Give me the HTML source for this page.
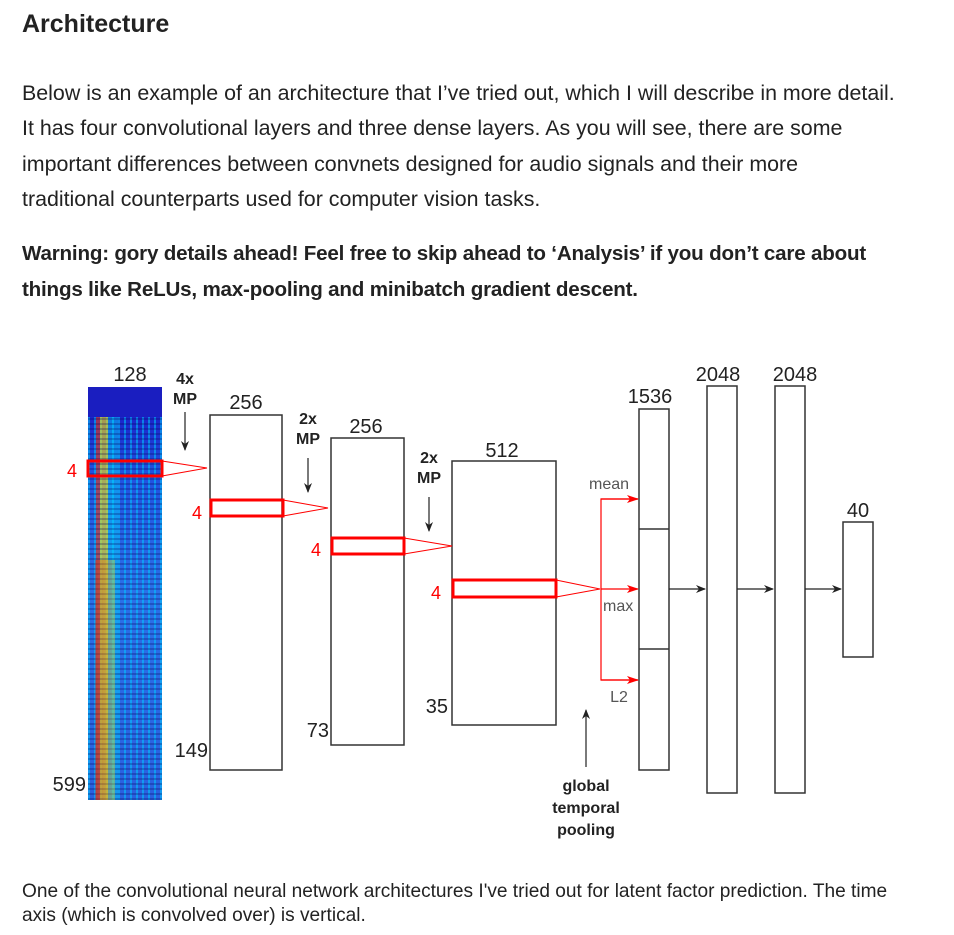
<!DOCTYPE html>
<html><head><meta charset="utf-8"><style>
body{margin:0;background:#fff;width:954px;height:935px;overflow:hidden;font-family:"Liberation Sans",sans-serif;color:#222}
.t{position:absolute;left:22px;white-space:nowrap}
</style></head><body>
<div class="t" style="top:10px;font-size:25px;font-weight:bold">Architecture</div>
<div class="t" style="top:76px;font-size:21.4px;line-height:35.3px">Below is an example of an architecture that I’ve tried out, which I will describe in more detail.<br>It has four convolutional layers and three dense layers. As you will see, there are some<br>important differences between convnets designed for audio signals and their more<br>traditional counterparts used for computer vision tasks.</div>
<div class="t" style="top:236px;font-size:20.6px;line-height:36px;font-weight:bold;letter-spacing:-0.2px">Warning: gory details ahead! Feel free to skip ahead to ‘Analysis’ if you don’t care about<br>things like ReLUs, max-pooling and minibatch gradient descent.</div>
<div class="t" style="top:880px;font-size:19.1px;line-height:24px">One of the convolutional neural network architectures I've tried out for latent factor prediction. The time<br>axis (which is convolved over) is vertical.</div>

<div style="position:absolute;left:88px;top:387px;width:74px;height:413px;background:
repeating-linear-gradient(0deg,rgba(0,0,80,.25) 0 2px,transparent 2px 5px),
linear-gradient(90deg,transparent 0 8px,rgba(255,60,0,.55) 8px 12px,rgba(255,230,0,.6) 12px 20px,rgba(0,220,255,.45) 20px 30px,transparent 30px),
repeating-linear-gradient(90deg,rgba(0,200,255,.55) 0 2px,transparent 2px 6px),
linear-gradient(180deg,#1a20c8 0 6%,#2050e0 20%,#2a70e8 50%,#2a60e0 100%)"></div>
<div style="position:absolute;left:88px;top:387px;width:74px;height:30px;background:#1a1ec0"></div>
<div style="position:absolute;left:95px;top:560px;width:20px;height:240px;background:linear-gradient(90deg,rgba(230,30,0,.35),rgba(255,220,0,.35))"></div>

<svg width="954" height="935" style="position:absolute;left:0;top:0" font-family="Liberation Sans,sans-serif">
<defs>
<marker id="ab" markerWidth="10" markerHeight="8" refX="9" refY="4" orient="auto" markerUnits="userSpaceOnUse"><path d="M0,0 L10,4 L0,8 L3,4z" fill="#222"/></marker>
<marker id="ar" markerWidth="12" markerHeight="8" refX="11" refY="4" orient="auto" markerUnits="userSpaceOnUse"><path d="M0,0 L12,4 L0,8 L3,4z" fill="#f00"/></marker>
</defs>
<g fill="none" stroke="#333" stroke-width="1.5">
<rect x="210" y="415" width="72" height="355"/>
<rect x="331" y="438" width="73" height="307"/>
<rect x="452" y="461" width="104" height="264"/>
<rect x="639" y="409" width="30" height="361"/>
<line x1="639" y1="529" x2="669" y2="529"/><line x1="639" y1="649" x2="669" y2="649"/>
<rect x="707" y="386" width="30" height="407"/>
<rect x="775" y="386" width="30" height="407"/>
<rect x="843" y="522" width="30" height="135"/>
</g>
<g stroke="#222" stroke-width="1.2" marker-end="url(#ab)">
<line x1="185" y1="412" x2="185" y2="450"/>
<line x1="308" y1="458" x2="308" y2="492"/>
<line x1="429" y1="497" x2="429" y2="531"/>
<line x1="669" y1="589" x2="705" y2="589"/>
<line x1="737" y1="589" x2="773" y2="589"/>
<line x1="805" y1="589" x2="841" y2="589"/>
<line x1="586" y1="767" x2="586" y2="710"/>
</g>
<g fill="none" stroke="#f00">
<rect x="88" y="461" width="74" height="15" stroke-width="3"/>
<rect x="211" y="500" width="72" height="16" stroke-width="3"/>
<rect x="332" y="538" width="72" height="16" stroke-width="3"/>
<rect x="453" y="580" width="103" height="17" stroke-width="3"/>
<polyline points="162,461 207,468 162,476" stroke-width="1"/>
<polyline points="283,500 328,508 283,516" stroke-width="1"/>
<polyline points="404,538 452,546 404,554" stroke-width="1"/>
<polyline points="556,580 600,589 556,597" stroke-width="1"/>
<polyline points="638,499 601,499 601,680 638,680" stroke-width="1.2"/>
<line x1="601" y1="499" x2="638" y2="499" stroke-width="1.2" marker-end="url(#ar)"/>
<line x1="601" y1="589" x2="638" y2="589" stroke-width="1.2" marker-end="url(#ar)"/>
<line x1="601" y1="680" x2="638" y2="680" stroke-width="1.2" marker-end="url(#ar)"/>
</g>
<g fill="#222" font-size="20">
<text x="130" y="381" text-anchor="middle">128</text>
<text x="246" y="409" text-anchor="middle">256</text>
<text x="366" y="433" text-anchor="middle">256</text>
<text x="502" y="457" text-anchor="middle">512</text>
<text x="650" y="403" text-anchor="middle">1536</text>
<text x="718" y="381" text-anchor="middle">2048</text>
<text x="795" y="381" text-anchor="middle">2048</text>
<text x="858" y="517" text-anchor="middle">40</text>
<text x="86" y="791" text-anchor="end">599</text>
<text x="208" y="757" text-anchor="end">149</text>
<text x="329" y="737" text-anchor="end">73</text>
<text x="448" y="713" text-anchor="end">35</text>
</g>
<g fill="#555" font-size="16">
<text x="609" y="489" text-anchor="middle">mean</text>
<text x="603" y="611">max</text>
<text x="619" y="702" text-anchor="middle">L2</text>
</g>
<g fill="#f00" font-size="18">
<text x="72" y="477" text-anchor="middle">4</text>
<text x="197" y="519" text-anchor="middle">4</text>
<text x="316" y="556" text-anchor="middle">4</text>
<text x="436" y="599" text-anchor="middle">4</text>
</g>
<g fill="#222" font-size="16" font-weight="bold" text-anchor="middle">
<text x="185" y="384">4x</text><text x="185" y="404">MP</text>
<text x="308" y="424">2x</text><text x="308" y="444">MP</text>
<text x="429" y="463">2x</text><text x="429" y="483">MP</text>
<text x="586" y="791">global</text><text x="586" y="813">temporal</text><text x="586" y="835">pooling</text>
</g>
</svg>
</body></html>
